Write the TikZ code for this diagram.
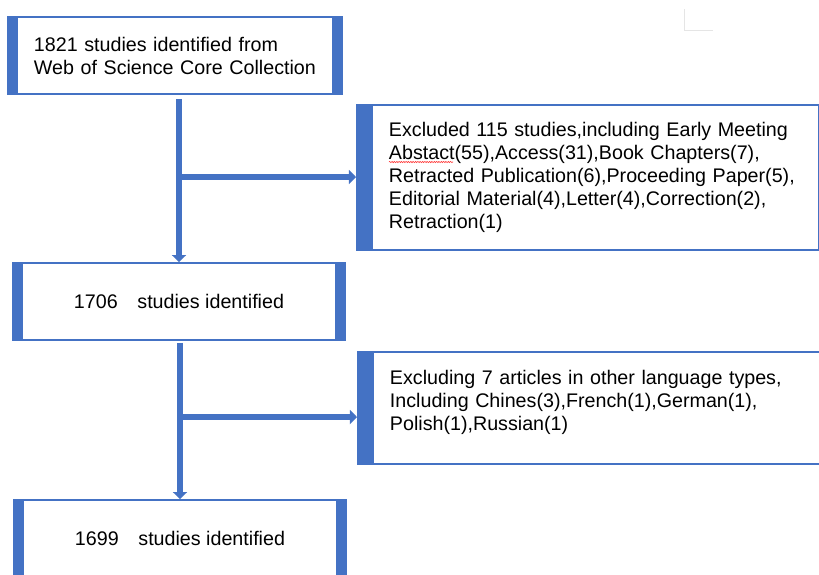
\documentclass[tikz,border=0pt]{standalone}
\usepackage{fontspec}
\setmainfont{Liberation Sans}
\usetikzlibrary{arrows.meta,decorations.pathmorphing}
\definecolor{boxblue}{HTML}{4472C4}
\tikzset{
  stagebox/.style={draw=boxblue, line width=1.6pt, fill=white, inner sep=0pt,
    font=\fontsize{16.8pt}{19.6pt}\selectfont,
    path picture={
      \fill[boxblue] (path picture bounding box.south west) rectangle ([xshift=#1]path picture bounding box.north west);
      \fill[boxblue] (path picture bounding box.south east) rectangle ([xshift=-#1]path picture bounding box.north east);}},
  stagebox/.default=0.3cm,
  flow/.style={boxblue, line width=4.6pt, -{Triangle[length=6pt,width=12pt]}},
}

\begin{document}
\begin{tikzpicture}[x=0.03cm, y=-0.03cm]
  \useasboundingbox (0,0) rectangle (819,574);

  % Stages
  \node[stagebox, minimum width=10.02cm, minimum height=2.31cm, text width=8.46cm, align=left]
    (found) at (175,55.5) {1821 studies identified from\\Web of Science Core Collection};
  \node[stagebox, minimum width=9.96cm, minimum height=2.31cm, align=center]
    (screened) at (179,301.5) {1706\quad studies identified};
  \node[stagebox, minimum width=9.96cm, minimum height=2.31cm, align=center]
    (included) at (180,538.5) {1699\quad studies identified};

  % Exclusions
  \node[stagebox=0.48cm, anchor=west, minimum width=14.31cm, minimum height=4.35cm, text width=12.39cm, align=left]
    (dropped) at (356,177.5) {Excluded 115 studies,including Early Meeting\\
      Abstact(55),Access(31),Book Chapters(7),\\
      Retracted Publication(6),Proceeding Paper(5),\\
      Editorial Material(4),Letter(4),Correction(2),\\
      Retraction(1)};
  \node[stagebox=0.48cm, anchor=west, minimum width=14.31cm, minimum height=3.36cm, text width=12.39cm, align=left]
    (language) at (357,408) {Excluding 7 articles in other language types,\\
      Including Chines(3),French(1),German(1),\\
      Polish(1),Russian(1)\\[-6pt]\mbox{}};

  % Flow
  \coordinate (split1) at (179,177);
  \coordinate (split2) at (180,417);
  \draw[flow, shorten <=0.12cm] (screened.north |- found.south) -- (screened.north);
  \draw[flow] (split1) -- (split1 -| dropped.west);
  \draw[flow, shorten <=0.06cm] (included.north |- screened.south) -- (included.north);
  \draw[flow] (split2) -- (split2 -| language.west);

  % spell-check squiggle and stray mark
  \draw[red!80, line width=0.5pt, decorate, decoration={snake, amplitude=0.5pt, segment length=2pt}] (389,162) -- (453,162);
  \draw[gray!20, line width=0.8pt] (684,9) -- (684,30) -- (713,30);
\end{tikzpicture}
\end{document}
